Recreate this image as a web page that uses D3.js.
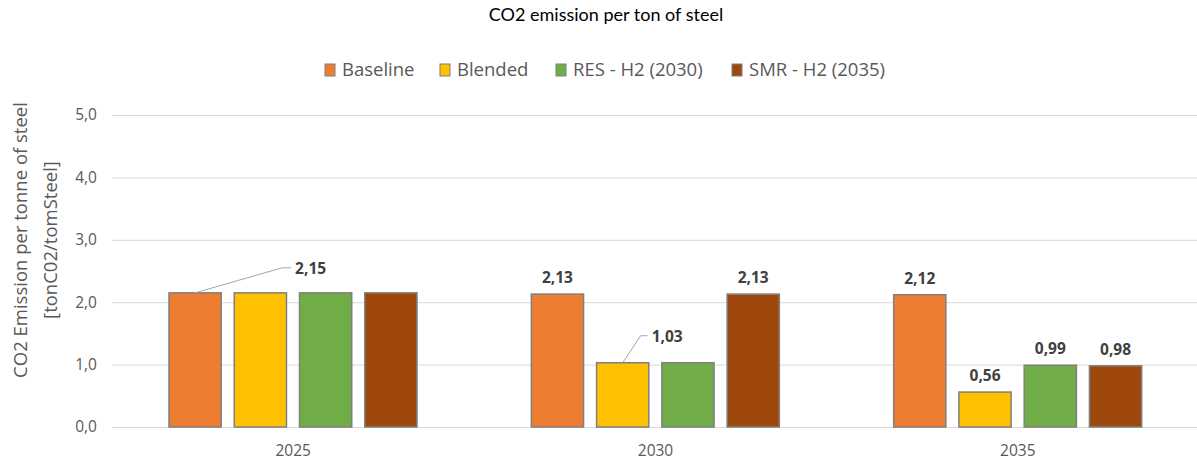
<!DOCTYPE html>
<html>
<head>
<meta charset="utf-8">
<script src="https://cdn.jsdelivr.net/npm/d3@7"></script>
<style>
  html, body { margin: 0; padding: 0; background: #fff; }
  svg { display: block; }
</style>
</head>
<body>
<svg id="chart" width="1197" height="465"></svg>
<script>
// Chart data
const years = ["2025", "2030", "2035"];
const seriesNames = ["Baseline", "Blended", "RES - H2 (2030)", "SMR - H2 (2035)"];
const baseline = [2.15, 2.13, 2.12];
const blended = [2.15, 1.03, 0.56];
const resH2 = [2.15, 1.03, 0.99];
const smrH2 = [2.15, 2.13, 0.98];
const yTicks = [0, 1, 2, 3, 4, 5];
// Which points carry a value label: [series index, year index, uses leader line]
const labelled = [
  [0, 0, true],
  [0, 1, false], [1, 1, true], [3, 1, false],
  [0, 2, false], [1, 2, false], [2, 2, false], [3, 2, false]
];

const colors = ["#ED7D31", "#FFC000", "#70AD47", "#9E480E"];
const seriesValues = [baseline, blended, resH2, smrH2];
const fmt = v => d3.format(".2f")(v).replace(".", ",");
const fmtTick = v => d3.format(".1f")(v).replace(".", ",");

const svg = d3.select("#chart");
const font = "'Open Sans', 'DejaVu Sans', sans-serif";

const x0 = d3.scaleBand().domain(years).range([112, 1199]);
const x1 = d3.scaleBand().domain(d3.range(seriesNames.length))
  .range([57, 305]).paddingInner(0.2);
const y = d3.scaleLinear().domain([0, 5]).range([427, 115]);

// Title
svg.append("text")
  .attr("x", 606).attr("y", 21)
  .attr("text-anchor", "middle")
  .attr("font-family", "Lato, 'Open Sans', sans-serif")
  .attr("font-size", 18)
  .attr("fill", "#000")
  .text("CO2 emission per ton of steel");

// Gridlines
svg.append("g")
  .selectAll("line").data(yTicks).join("line")
  .attr("x1", 112).attr("x2", 1197)
  .attr("y1", d => y(d) + 0.5).attr("y2", d => y(d) + 0.5)
  .attr("stroke", "#d9d9d9").attr("stroke-width", 1);

// Y axis tick labels
const yAxis = d3.axisLeft(y).tickValues(yTicks).tickFormat(fmtTick).tickSize(0).tickPadding(0);
const gy = svg.append("g").attr("transform", "translate(97,0)").call(yAxis);
gy.select(".domain").remove();
gy.selectAll("text")
  .attr("font-family", font).attr("font-size", 15.5).attr("fill", "#595959");

// X axis tick labels
const xAxis = d3.axisBottom(x0).tickSize(0).tickPadding(0);
const gx = svg.append("g").attr("transform", "translate(0,445)").call(xAxis);
gx.select(".domain").remove();
gx.selectAll("text")
  .attr("font-family", font).attr("font-size", 15.5).attr("fill", "#595959");

// Y axis title
const yTitle = svg.append("text")
  .attr("transform", "translate(0,240) rotate(-90)")
  .attr("text-anchor", "middle")
  .attr("font-family", font).attr("font-size", 18.5).attr("fill", "#595959");
yTitle.append("tspan").attr("x", 0).attr("y", 27).text("CO2 Emission per tonne of steel");
yTitle.append("tspan").attr("x", 0).attr("y", 57).text("[tonC02/tomSteel]");

// Bars
const groups = svg.append("g").selectAll("g").data(years).join("g")
  .attr("transform", d => `translate(${x0(d)},0)`);
groups.selectAll("rect")
  .data((d, yi) => seriesValues.map((vals, si) => ({ si, value: vals[yi] })))
  .join("rect")
  .attr("x", d => x1(d.si))
  .attr("width", x1.bandwidth())
  .attr("y", d => y(d.value))
  .attr("height", d => y(0) - y(d.value))
  .attr("fill", d => colors[d.si])
  .attr("stroke", "#7f7f7f")
  .attr("stroke-width", 1.5);

// Value labels
const labels = svg.append("g");
labelled.forEach(([si, yi, leader]) => {
  const v = seriesValues[si][yi];
  const cx = x0(years[yi]) + x1(si) + x1.bandwidth() / 2;
  const top = y(v);
  if (leader) {
    const ly = top - (si === 0 ? 25 : 27);
    const kneeX = si === 0 ? cx + 87 : cx + 18;
    const ex = si === 0 ? cx + 96 : cx + 25;
    labels.append("path")
      .attr("d", `M${cx},${top} L${kneeX},${ly} L${ex},${ly}`)
      .attr("fill", "none").attr("stroke", "#a6a6a6").attr("stroke-width", 1);
    labels.append("text")
      .attr("x", ex + 4).attr("y", ly + 6)
      .attr("font-family", font).attr("font-size", 15.5).attr("font-weight", "bold")
      .attr("fill", "#404040")
      .text(fmt(v));
  } else {
    labels.append("text")
      .attr("x", cx).attr("y", top - 11)
      .attr("text-anchor", "middle")
      .attr("font-family", font).attr("font-size", 15.5).attr("font-weight", "bold")
      .attr("fill", "#404040")
      .text(fmt(v));
  }
});

// Legend
const legendX = [325, 440, 556, 732];
const legend = svg.append("g").selectAll("g").data(seriesNames).join("g")
  .attr("transform", (d, i) => `translate(${legendX[i]},64)`);
legend.append("rect")
  .attr("width", 10).attr("height", 12)
  .attr("fill", (d, i) => colors[i])
  .attr("stroke", "#7f7f7f").attr("stroke-width", 1);
legend.append("text")
  .attr("x", 17).attr("y", 12)
  .attr("font-family", font).attr("font-size", 18.5).attr("fill", "#595959")
  .text(d => d);
</script>
</body>
</html>
